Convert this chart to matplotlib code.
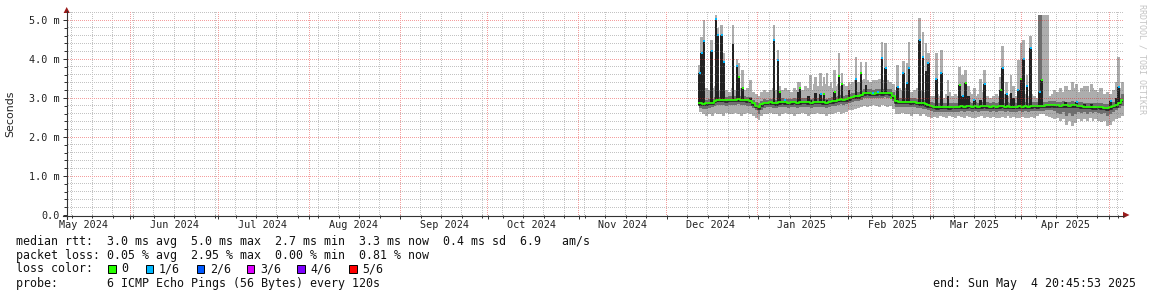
import datetime as dt
import numpy as np
import matplotlib
matplotlib.use("Agg")
import matplotlib.pyplot as plt
import matplotlib.dates as mdates
import matplotlib.patheffects as pe
from matplotlib.ticker import MultipleLocator, FixedLocator
from matplotlib.patches import Rectangle, Polygon
from matplotlib.lines import Line2D
from matplotlib.transforms import blended_transform_factory

# ---------------- data ----------------
data_start = dt.datetime(2024, 12, 12)   # first daily sample

median = [2.86, 2.85, 2.86, 2.88, 2.88, 2.93, 2.95, 2.95, 2.96, 2.94,
          2.95, 2.96, 2.95, 2.97, 2.95, 2.96, 2.94, 2.93, 2.87, 2.80,
          2.76, 2.84, 2.88, 2.88, 2.89, 2.88, 2.87, 2.89, 2.90, 2.89,
          2.88, 2.89, 2.90, 2.88, 2.89, 2.90, 2.91, 2.89, 2.88, 2.90,
          2.91, 2.90, 2.89, 2.88, 2.90, 2.92, 2.93, 2.95, 2.97, 2.96,
          2.97, 3.00, 3.03, 3.04, 3.05, 3.08, 3.12, 3.13, 3.12, 3.11,
          3.12, 3.13, 3.12, 3.14, 3.13, 3.12, 3.05, 2.92, 2.90, 2.90,
          2.91, 2.90, 2.89, 2.90, 2.88, 2.87, 2.86, 2.84, 2.82, 2.80,
          2.77, 2.76, 2.77, 2.78, 2.77, 2.76, 2.78, 2.77, 2.78, 2.79,
          2.78, 2.79, 2.80, 2.78, 2.79, 2.78, 2.79, 2.80, 2.79, 2.78,
          2.79, 2.78, 2.79, 2.80, 2.78, 2.79, 2.78, 2.77, 2.78, 2.79,
          2.78, 2.79, 2.78, 2.79, 2.80, 2.79, 2.80, 2.80, 2.81, 2.82,
          2.83, 2.82, 2.81, 2.80, 2.82, 2.81, 2.80, 2.82, 2.81, 2.80,
          2.79, 2.78, 2.77, 2.77, 2.76, 2.76, 2.77, 2.76, 2.75, 2.74,
          2.76, 2.80, 2.82, 2.88, 2.95]

smoke_hi = [3.15, 3.30, 3.25, 3.20, 3.25, 3.30, 3.25, 3.20, 3.25, 3.20,
            3.15, 3.25, 3.20, 3.30, 3.25, 3.20, 3.25, 3.35, 3.15, 3.10,
            3.05, 3.15, 3.20, 3.15, 3.20, 3.25, 3.20, 3.15, 3.20, 3.25,
            3.20, 3.15, 3.25, 3.20, 3.25, 3.20, 3.30, 3.25, 3.20, 3.35,
            3.30, 3.25, 3.30, 3.35, 3.30, 3.25, 3.30, 3.35, 3.30, 3.35,
            3.30, 3.35, 3.40, 3.45, 3.40, 3.45, 3.50, 3.45, 3.40, 3.45,
            3.45, 3.50, 3.45, 3.40, 3.45, 3.40, 3.35, 3.20, 3.25, 3.20,
            3.25, 3.20, 3.15, 3.20, 3.25, 3.20, 3.15, 3.10, 3.10, 3.05,
            3.05, 3.10, 3.05, 3.00, 3.10, 3.15, 3.05, 3.10, 3.05, 3.10,
            3.10, 3.05, 3.15, 3.10, 3.05, 3.10, 3.15, 3.10, 3.05, 3.00,
            3.05, 3.10, 3.05, 3.15, 3.10, 3.05, 3.10, 3.15, 3.05, 3.10,
            3.05, 3.10, 3.05, 3.10, 3.05, 3.00, 3.05, 3.05, 3.05, 3.05,
            3.10, 3.20, 3.15, 3.25, 3.15, 3.30, 3.20, 3.30, 3.25, 3.15,
            3.25, 3.20, 3.30, 3.15, 3.25, 3.20, 3.15, 3.25, 3.10, 3.15,
            3.10, 3.20, 3.15, 3.25, 3.40]

smoke_lo = [2.65, 2.60, 2.55, 2.60, 2.55, 2.62, 2.58, 2.60, 2.55, 2.62,
            2.60, 2.58, 2.62, 2.60, 2.55, 2.60, 2.62, 2.58, 2.55, 2.50,
            2.44, 2.55, 2.60, 2.58, 2.62, 2.60, 2.58, 2.55, 2.60, 2.62,
            2.58, 2.60, 2.55, 2.60, 2.58, 2.62, 2.60, 2.55, 2.58, 2.60,
            2.62, 2.58, 2.60, 2.55, 2.58, 2.60, 2.62, 2.65, 2.60, 2.62,
            2.65, 2.68, 2.70, 2.72, 2.75, 2.78, 2.80, 2.78, 2.80, 2.82,
            2.80, 2.78, 2.82, 2.80, 2.78, 2.80, 2.72, 2.60, 2.58, 2.62,
            2.60, 2.58, 2.55, 2.60, 2.58, 2.55, 2.58, 2.55, 2.52, 2.50,
            2.52, 2.50, 2.55, 2.52, 2.50, 2.55, 2.52, 2.50, 2.55, 2.52,
            2.50, 2.55, 2.52, 2.50, 2.48, 2.52, 2.55, 2.50, 2.52, 2.50,
            2.52, 2.48, 2.50, 2.52, 2.50, 2.55, 2.50, 2.52, 2.48, 2.50,
            2.52, 2.50, 2.48, 2.52, 2.50, 2.55, 2.60, 2.58, 2.55, 2.52,
            2.50, 2.45, 2.48, 2.40, 2.45, 2.30, 2.42, 2.28, 2.35, 2.45,
            2.40, 2.45, 2.42, 2.48, 2.40, 2.45, 2.42, 2.38, 2.40, 2.28,
            2.32, 2.40, 2.45, 2.50, 2.55]

mid_hi = [2.96, 2.95, 2.95, 2.97, 2.98, 3.02, 3.04, 3.03, 3.05, 3.03,
          3.04, 3.05, 3.04, 3.07, 3.05, 3.04, 3.03, 3.02, 2.96, 2.90,
          2.86, 2.93, 2.97, 2.96, 2.98, 2.97, 2.96, 2.98, 2.99, 2.98,
          2.97, 2.98, 2.99, 2.97, 2.98, 3.00, 3.01, 2.98, 2.97, 3.00,
          3.01, 3.00, 2.98, 2.98, 3.00, 3.02, 3.03, 3.05, 3.07, 3.06,
          3.07, 3.10, 3.13, 3.14, 3.15, 3.18, 3.22, 3.23, 3.22, 3.21,
          3.22, 3.23, 3.22, 3.24, 3.23, 3.22, 3.15, 3.02, 3.00, 3.00,
          3.01, 3.00, 2.99, 3.00, 2.98, 2.97, 2.96, 2.94, 2.92, 2.90,
          2.87, 2.86, 2.87, 2.88, 2.87, 2.86, 2.88, 2.87, 2.88, 2.89,
          2.88, 2.89, 2.90, 2.88, 2.89, 2.88, 2.89, 2.90, 2.89, 2.88,
          2.89, 2.88, 2.89, 2.90, 2.88, 2.89, 2.88, 2.87, 2.88, 2.89,
          2.88, 2.89, 2.88, 2.89, 2.90, 2.89, 2.90, 2.90, 2.91, 2.92,
          2.93, 2.92, 2.91, 2.90, 2.92, 2.91, 2.90, 2.92, 2.91, 2.90,
          2.89, 2.88, 2.87, 2.87, 2.86, 2.86, 2.87, 2.86, 2.85, 2.84,
          2.86, 2.90, 2.92, 3.00, 3.10]

mid_lo = [2.74, 2.73, 2.72, 2.75, 2.76, 2.80, 2.82, 2.83, 2.82, 2.80,
          2.82, 2.83, 2.81, 2.84, 2.82, 2.83, 2.80, 2.80, 2.74, 2.68,
          2.60, 2.70, 2.75, 2.76, 2.76, 2.75, 2.74, 2.77, 2.78, 2.76,
          2.75, 2.76, 2.77, 2.75, 2.76, 2.78, 2.78, 2.76, 2.75, 2.77,
          2.78, 2.77, 2.76, 2.75, 2.77, 2.79, 2.80, 2.82, 2.84, 2.83,
          2.84, 2.87, 2.90, 2.92, 2.93, 2.96, 3.00, 3.01, 3.00, 2.99,
          3.00, 3.01, 3.00, 3.02, 3.01, 3.00, 2.92, 2.78, 2.77, 2.77,
          2.78, 2.77, 2.76, 2.77, 2.75, 2.74, 2.73, 2.71, 2.69, 2.67,
          2.64, 2.63, 2.64, 2.65, 2.64, 2.63, 2.65, 2.64, 2.65, 2.66,
          2.65, 2.66, 2.67, 2.65, 2.66, 2.65, 2.66, 2.67, 2.66, 2.65,
          2.66, 2.65, 2.66, 2.67, 2.65, 2.66, 2.65, 2.64, 2.65, 2.66,
          2.65, 2.66, 2.65, 2.66, 2.67, 2.66, 2.67, 2.67, 2.68, 2.69,
          2.68, 2.66, 2.62, 2.60, 2.64, 2.55, 2.62, 2.55, 2.60, 2.64,
          2.62, 2.64, 2.60, 2.64, 2.62, 2.63, 2.62, 2.60, 2.62, 2.55,
          2.58, 2.65, 2.68, 2.74, 2.80]

# sparse latency bursts: day offset, top of dark smoke, top of light smoke,
# loss class of the median sample (1 = 1/6 loss, 0 = no loss, -1 = not marked)
spike_day = [0.3, 1.0, 1.7, 4.4, 5.8, 6.5, 7.8, 8.5, 11.6, 13.0, 13.7, 15.0,
             17.7, 25.6, 27.0, 27.6, 29.4, 33.8, 34.5, 37.5, 38.2, 39.9, 41.6,
             42.7, 43.7, 45.1, 46.4, 47.8, 48.8, 51.2, 53.6, 55.3, 57.0, 59.4,
             61.1, 62.5, 63.8, 65.5, 67.9, 69.8, 71.0, 71.7, 75.4, 76.5, 77.5,
             78.3, 81.0, 82.7, 85.0, 89.0, 90.0, 91.0, 92.0, 94.0, 96.0, 97.5,
             103.0, 103.7, 105.0, 106.5, 107.5, 109.0, 110.0, 110.8, 112.0,
             113.2, 116.3, 117.0, 125.0, 127.5, 129.0, 131.5, 134.0, 137.0,
             140.5, 142.5, 143.3]
spike_dark = [3.63, 4.15, 4.45, 4.21, 5.02, 4.62, 4.62, 3.92, 4.38, 3.82, 3.55,
              3.25, 3.00, 4.49, 3.97, 3.16, 2.95, 3.16, 3.25, 3.05, 2.95, 3.12,
              3.10, 3.10, 2.95, 2.95, 3.16, 3.56, 3.37, 3.20, 3.50, 3.63, 3.33,
              3.14, 3.15, 4.02, 3.76, 3.00, 3.29, 3.65, 3.38, 3.76, 4.49, 4.06,
              3.68, 3.89, 3.50, 3.63, 3.05, 3.33, 3.05, 3.38, 3.05, 2.95, 2.95,
              3.37, 3.20, 3.76, 3.10, 3.12, 3.00, 3.20, 3.50, 4.00, 3.30, 4.28,
              3.16, 3.46, 2.90, 2.85, 2.90, 2.85, 2.85, 2.80, 2.92, 3.00, 3.28]
spike_light = [3.85, 4.57, 5.00, 4.49, 5.13, 4.79, 4.87, 4.15, 4.87, 4.00, 3.90,
               3.72, 3.46, 4.87, 4.23, 3.30, 3.20, 3.40, 3.40, 3.15, 3.60, 3.55,
               3.63, 3.55, 3.63, 3.40, 3.72, 4.16, 3.63, 3.40, 4.06, 3.93, 3.93,
               3.30, 3.35, 4.44, 4.40, 3.40, 3.84, 3.95, 3.90, 4.44, 5.04, 4.70,
               4.40, 4.15, 4.15, 4.23, 3.45, 3.80, 3.60, 3.72, 3.30, 3.25, 3.50,
               3.72, 3.55, 4.33, 3.40, 3.59, 3.30, 3.97, 4.40, 4.49, 3.60, 4.60,
               3.30, 3.60, 3.30, 3.40, 3.35, 3.30, 3.35, 3.25, 3.10, 3.40, 4.06]
spike_loss = [1, 1, 1, 1, 1, 1, 1, 1, -1, 1, 0, 0,
              -1, 1, 1, 0, 1, -1, 0, -1, -1, -1, 1,
              0, -1, -1, 0, 0, 0, -1, 1, 0, -1, 1,
              1, 1, 1, 0, 1, 1, 1, 1, 1, 1, -1,
              1, 1, 1, -1, 0, 1, 0, -1, 1, -1, 1,
              0, 1, 1, -1, -1, 1, 0, 1, 1,
              1, 1, 0, -1, -1, 1, -1, -1, -1,
              1, -1, 1]

# wide smoke block at the end of March
block_day = [115.8, 119.5]
block_mid_day = [115.8, 117.0]
block_range = [2.86, 5.13]
block_mid_range = [2.95, 5.13]

month_starts = [dt.datetime(2024, m, 1) for m in range(5, 13)] + \
               [dt.datetime(2025, m, 1) for m in range(1, 5)]
month_labels = ["May 2024", "Jun 2024", "Jul 2024", "Aug 2024", "Sep 2024",
                "Oct 2024", "Nov 2024", "Dec 2024", "Jan 2025", "Feb 2025",
                "Mar 2025", "Apr 2025"]
y_ticks = [0, 1, 2, 3, 4, 5]
y_tick_labels = ["0.0", "1.0 m", "2.0 m", "3.0 m", "4.0 m", "5.0 m"]

loss_names = ["0", "1/6", "2/6", "3/6", "4/6", "5/6"]
loss_colors = ["#26ff00", "#00b8ff", "#0059ff", "#dd00ff", "#7e00ff", "#ff0000"]

legend_lines = [
    "median rtt:  3.0 ms avg  5.0 ms max  2.7 ms min  3.3 ms now  0.4 ms sd  6.9   am/s",
    "packet loss: 0.05 % avg  2.95 % max  0.00 % min  0.81 % now",
    "loss color:",
    "probe:       6 ICMP Echo Pings (56 Bytes) every 120s",
]
end_text = "end: Sun May  4 20:45:53 2025"

# ---------------- layout ----------------
W, H = 1152, 297
L, R, T, B = 67, 1123, 12, 215
PX_PER_DAY = 2.93
x_start = dt.datetime(2024, 5, 10, 7, 54)
x_end = x_start + dt.timedelta(days=(R - L) / PX_PER_DAY)

MONO = "DejaVu Sans Mono"
LIGHT = "#adadad"
MID = "#6e6e6e"
DARK = "#222222"
AXC = "#333333"
ARROW = "#9a1a1a"
GRID_MINOR = (0.45, 0.45, 0.45, 0.42)
GRID_MAJOR = (0.90, 0.10, 0.10, 0.42)

fig = plt.figure(figsize=(W / 100, H / 100), dpi=100)
fig.patch.set_facecolor("white")
ax = fig.add_axes([L / W, (H - B) / H, (R - L) / W, (B - T) / H])
ax.set_facecolor("white")

x0 = mdates.date2num(x_start)
x1 = mdates.date2num(x_end)
d0 = mdates.date2num(data_start)
n = len(median)
xe = [d0 + i for i in range(n + 1)]
ymax = (B - T) / 39.0


def ext(a):
    return list(a) + [a[-1]]


BAR_W = 0.95
# light smoke
ax.fill_between(xe, ext(smoke_lo), ext(smoke_hi), step="post", color=LIGHT, lw=0, zorder=2)
ax.add_patch(Rectangle((d0 + block_day[0], block_range[0]), block_day[1] - block_day[0],
                       block_range[1] - block_range[0], color=LIGHT, lw=0, zorder=2))
for sd, sl in zip(spike_day, spike_light):
    base = median[min(int(sd), n - 1)]
    ax.bar(d0 + sd, sl - base, bottom=base, width=BAR_W, color=LIGHT, lw=0, zorder=2)
# medium smoke
ax.fill_between(xe, ext(mid_lo), ext(mid_hi), step="post", color=MID, lw=0, zorder=3)
ax.add_patch(Rectangle((d0 + block_mid_day[0], block_mid_range[0]),
                       block_mid_day[1] - block_mid_day[0],
                       block_mid_range[1] - block_mid_range[0], color=MID, lw=0, zorder=3))
# dark smoke bursts
for sd, sk in zip(spike_day, spike_dark):
    base = median[min(int(sd), n - 1)] - 0.04
    if sk > base:
        ax.bar(d0 + sd, sk - base, bottom=base, width=BAR_W, color=DARK, lw=0, zorder=4)

# median line coloured by loss
ax.step(xe, ext(median), where="post", color=loss_colors[0], lw=1.3, zorder=5,
        path_effects=[pe.SimpleLineShadow(offset=(0, -1.1), shadow_color=DARK, alpha=0.9),
                      pe.Normal()])
for sd, sk, ls in zip(spike_day, spike_dark, spike_loss):
    if ls >= 0:
        ax.plot([d0 + sd], [sk], marker="s", ms=2.0, mew=0, color=loss_colors[ls], zorder=6)

# axes limits and ticks
ax.set_xlim(x0, x1)
ax.set_ylim(0, ymax)
ax.xaxis.set_major_locator(mdates.MonthLocator())
ax.xaxis.set_minor_locator(mdates.WeekdayLocator(byweekday=mdates.SU))
ax.yaxis.set_major_locator(FixedLocator(y_ticks))
ax.yaxis.set_minor_locator(MultipleLocator(0.2))
ax.set_yticklabels(y_tick_labels, fontfamily=MONO, fontsize=7.3, color="#222222")
ax.set_xticklabels([])
ax.tick_params(axis="both", which="major", length=3, width=0.72, color=AXC, direction="out", pad=2.5)
ax.tick_params(axis="both", which="minor", length=2, width=0.72, color=AXC, direction="out")
for s in ax.spines.values():
    s.set_visible(False)

# pixel-exact dotted grid (1 px on / 1 px off), positions from the axes' own transforms
gw, gh = R - L, B - T
grid_img = np.zeros((gh, gw, 4))
fig.canvas.draw()


def col_of(xv):
    return int(np.floor(ax.transData.transform((xv, 0))[0] - L + 1e-6))


def row_of(yv):
    return int(np.floor((H - ax.transData.transform((0, yv))[1]) - T + 1e-6))


rows_dot = (np.arange(gh) + T) % 2 == 0
cols_dot = (np.arange(gw) + L) % 2 == 0
for xv in ax.xaxis.get_minorticklocs():
    c = col_of(xv)
    if 0 <= c < gw:
        grid_img[rows_dot, c] = GRID_MINOR
for yv in ax.yaxis.get_minorticklocs():
    r = row_of(yv)
    if 0 <= r < gh:
        grid_img[r, cols_dot] = GRID_MINOR
for xv in ax.xaxis.get_majorticklocs():
    c = col_of(xv)
    if 0 <= c < gw:
        grid_img[rows_dot, c] = GRID_MAJOR
for yv in y_ticks[1:]:
    r = row_of(yv)
    if 0 <= r < gh:
        grid_img[r, cols_dot] = GRID_MAJOR
fig.figimage(grid_img, xo=L, yo=H - B, origin="upper", zorder=1)

# overlay in pixel coordinates
ov = fig.add_axes([0, 0, 1, 1], zorder=10)
ov.set_xlim(0, W)
ov.set_ylim(H, 0)
ov.axis("off")
ov.patch.set_alpha(0)

ov.add_line(Line2D([63, 1124], [B + 0.5, B + 0.5], color=AXC, lw=0.8))
ov.add_line(Line2D([L - 0.5, L - 0.5], [219, 11], color=AXC, lw=0.8))
ov.add_patch(Polygon([[1123, 211.8], [1123, 218.2], [1129.5, 215.0]], closed=True, color=ARROW, lw=0))
ov.add_patch(Polygon([[63.6, 13.0], [69.8, 13.0], [66.7, 7.0]], closed=True, color=ARROW, lw=0))

# month labels centred half a month after each month start
bt = blended_transform_factory(ax.transData, ov.transData)
for ms, lab in zip(month_starts, month_labels):
    ax.text(mdates.date2num(ms) + 15, 224.5, lab, transform=bt, ha="center", va="center",
            fontfamily=MONO, fontsize=7.3, color="#222222", clip_on=False)

ov.text(10, 114, "Seconds", rotation=90, ha="center", va="center",
        fontfamily="DejaVu Sans", fontsize=7.9, color="#222222")
ov.text(1142, 4, "RRDTOOL / TOBI OETIKER", rotation=270, ha="center", va="top",
        fontfamily=MONO, fontsize=6.0, color="#c4c4c4")

LEG_FS = 8.4
line_y = [241, 255, 269, 283]
for txt, yy in zip(legend_lines, line_y):
    ov.text(16, yy, txt, ha="left", va="center", fontfamily=MONO, fontsize=LEG_FS, color="#111111")

box_x = [108.3, 145.7, 196.7, 246.7, 297.3, 349.3]
for bx, nm, col in zip(box_x, loss_names, loss_colors):
    ov.add_patch(Rectangle((bx, line_y[2] - 4), 7.4, 8, facecolor=col, edgecolor="black", lw=0.7))
    ov.text(bx + 13.4, line_y[2], nm, ha="left", va="center", fontfamily=MONO,
            fontsize=LEG_FS, color="#111111")

ov.text(1136, line_y[3], end_text, ha="right", va="center", fontfamily=MONO,
        fontsize=LEG_FS, color="#111111")

fig.savefig("out.png", dpi=100, facecolor="white")
